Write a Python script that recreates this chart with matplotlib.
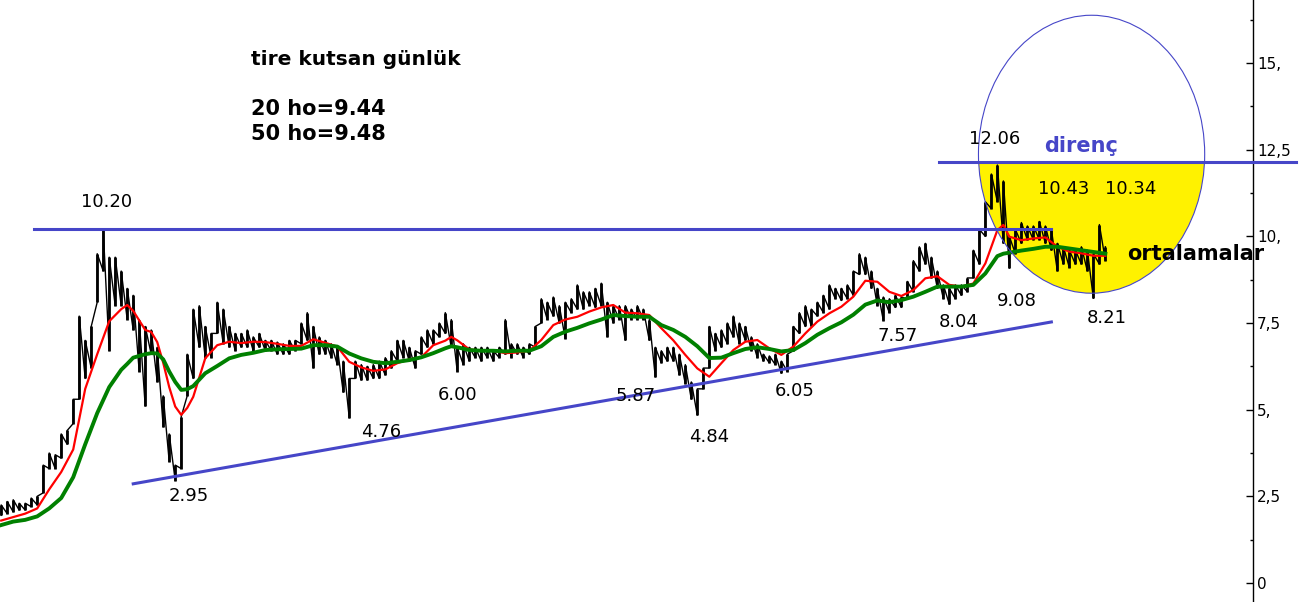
import matplotlib
matplotlib.use("Agg")
import matplotlib.pyplot as plt
import numpy as np
from matplotlib.patches import Ellipse, Rectangle

# daily bars (low / high), one bar per step of the original chart
bar_low = [
    1.95, 2.0, 2.05, 2.1, 2.1, 2.2, 2.25, 2.6, 3.3, 3.3,
    3.6, 4.0, 4.6, 5.3, 5.9, 6.2, 8.1, 9.0, 6.7, 8.0,
    8.0, 7.6, 7.3, 6.1, 5.1, 6.6, 5.8, 4.5, 3.5, 2.95,
    3.3, 5.4, 5.9, 6.8, 6.5, 6.5, 7.2, 6.9, 6.8, 6.7,
    6.8, 6.8, 6.7, 6.8, 6.7, 6.7, 6.6, 6.6, 6.6, 6.7,
    6.9, 7.0, 6.2, 6.6, 6.6, 6.5, 6.3, 5.5, 4.76, 5.9,
    5.85, 5.85, 5.9, 5.9, 6.0, 6.2, 6.4, 6.5, 6.4, 6.2,
    6.6, 6.8, 6.9, 7.1, 7.2, 6.8, 6.1, 6.3, 6.4, 6.5,
    6.4, 6.5, 6.4, 6.5, 6.6, 6.5, 6.6, 6.5, 6.6, 6.8,
    7.5, 7.6, 7.7, 7.5, 7.05, 7.8, 7.9, 7.9, 8.0, 7.95,
    8.0, 7.1, 7.5, 7.6, 7.0, 7.6, 7.6, 7.6, 7.0, 5.94,
    6.35, 6.4, 6.4, 6.0, 5.75, 5.3, 4.84, 5.6, 6.2, 6.7,
    6.8, 6.9, 7.1, 6.9, 7.0, 6.7, 6.5, 6.4, 6.35, 6.3,
    6.05, 6.1, 6.7, 7.2, 7.4, 7.4, 7.7, 7.8, 7.9, 8.2,
    8.15, 8.2, 8.3, 8.9, 8.9, 8.5, 8.0, 7.57, 7.8, 7.95,
    7.95, 8.2, 8.4, 9.0, 9.2, 8.8, 8.5, 8.2, 8.04, 8.2,
    8.3, 8.4, 8.8, 9.2, 10.0, 10.8, 11.0, 9.8, 9.08, 9.5,
    9.8, 9.9, 9.9, 9.9, 9.8, 9.6, 9.0, 9.2, 9.1, 9.2,
    9.2, 9.0, 8.21, 9.2, 9.3,
]
bar_high = [
    2.25, 2.35, 2.4, 2.3, 2.3, 2.45, 2.5, 3.4, 3.75, 3.7,
    4.3, 4.4, 5.3, 7.7, 7.0, 7.4, 9.5, 10.2, 9.4, 9.4,
    9.0, 8.5, 8.3, 7.6, 7.4, 7.3, 6.8, 5.4, 4.3, 3.4,
    4.8, 6.6, 7.9, 8.0, 7.4, 7.2, 8.1, 7.9, 7.4, 7.2,
    7.2, 7.3, 7.1, 7.2, 7.0, 7.0, 6.95, 6.9, 7.0, 7.0,
    7.5, 7.8, 7.4, 7.1, 7.0, 6.9, 6.8, 6.4, 5.9, 6.4,
    6.3, 6.25, 6.3, 6.4, 6.5, 6.7, 7.0, 7.0, 6.8, 6.7,
    7.1, 7.3, 7.3, 7.5, 7.8, 7.6, 6.8, 6.9, 6.8, 6.8,
    6.8, 6.8, 6.7, 6.8, 7.6, 6.9, 6.9, 6.8, 6.9, 7.4,
    8.2, 8.1, 8.25, 8.0, 8.1, 8.2, 8.6, 8.4, 8.4, 8.5,
    8.65, 8.1, 8.0, 8.0, 8.0, 7.9, 8.0, 7.9, 7.6, 6.8,
    6.7, 6.8, 6.8, 6.6, 6.3, 5.8, 5.6, 6.2, 7.4, 7.2,
    7.3, 7.5, 7.7, 7.5, 7.4, 7.1, 6.9, 6.6, 6.55, 6.6,
    6.4, 6.6, 7.4, 7.8, 8.0, 7.9, 8.1, 8.3, 8.6, 8.5,
    8.5, 8.6, 9.0, 9.5, 9.4, 9.0, 8.5, 8.25, 8.2, 8.3,
    8.25, 8.7, 9.3, 9.7, 9.8, 9.4, 9.0, 8.6, 8.5, 8.6,
    8.6, 8.8, 9.6, 10.2, 11.0, 11.8, 12.06, 11.6, 10.0, 10.2,
    10.4, 10.3, 10.3, 10.43, 10.3, 10.2, 9.8, 9.7, 9.6, 9.6,
    9.7, 9.6, 9.5, 10.34, 9.7,
]

# moving averages read at these bar numbers
ma_bar = [
    0, 2, 4, 6, 8, 10, 12, 14, 16, 18, 20, 21, 22, 24, 25, 26, 27, 28, 29, 30,
    31, 32, 34, 36, 38, 40, 42, 44, 46, 48, 50, 52, 54, 56, 58, 60, 62, 64, 66,
    68, 70, 72, 74, 75, 76, 78, 80, 82, 84, 86, 88, 90, 92, 94, 96, 98, 100, 102,
    104, 106, 108, 110, 112, 114, 116, 118, 120, 122, 124, 126, 128, 130, 132,
    134, 136, 138, 140, 142, 144, 146, 148, 150, 152, 154, 156, 158, 160, 162,
    164, 166, 167, 168, 170, 172, 174, 176, 178, 180, 182, 184,
]
ma20 = [
    1.8, 1.9, 2.0, 2.15, 2.7, 3.2, 3.85, 5.6, 6.6, 7.55, 7.9, 8.02, 7.85, 7.3,
    7.24, 6.95, 6.35, 5.65, 5.09, 4.85, 5.05, 5.37, 6.48, 6.86, 6.96, 6.92,
    6.96, 6.95, 6.9, 6.84, 6.84, 7.03, 6.93, 6.82, 6.38, 6.22, 6.12, 6.16,
    6.34, 6.45, 6.51, 6.86, 6.99, 7.1, 7.0, 6.74, 6.7, 6.7, 6.63, 6.65, 6.7,
    7.01, 7.44, 7.6, 7.68, 7.83, 7.95, 8.02, 7.8, 7.78, 7.73, 7.35, 7.0, 6.58,
    6.19, 5.95, 6.34, 6.72, 6.96, 7.01, 6.77, 6.58, 6.82, 7.2, 7.54, 7.78,
    7.97, 8.26, 8.72, 8.69, 8.4, 8.28, 8.45, 8.79, 8.85, 8.6, 8.55, 8.64,
    9.22, 10.18, 10.33, 9.99, 9.89, 9.94, 9.97, 9.7, 9.56, 9.51, 9.44, 9.44,
]
ma50 = [
    1.67, 1.77, 1.82, 1.92, 2.15, 2.45, 3.05, 4.0, 4.9, 5.65, 6.15, 6.32,
    6.5, 6.6, 6.63, 6.62, 6.45, 6.1, 5.8, 5.57, 5.59, 5.68, 6.05, 6.26, 6.48,
    6.58, 6.64, 6.72, 6.74, 6.75, 6.76, 6.86, 6.86, 6.82, 6.62, 6.48, 6.38,
    6.34, 6.38, 6.43, 6.51, 6.63, 6.77, 6.83, 6.8, 6.72, 6.7, 6.7, 6.68, 6.7,
    6.7, 6.83, 7.1, 7.25, 7.36, 7.49, 7.6, 7.73, 7.7, 7.68, 7.68, 7.44, 7.3,
    7.1, 6.83, 6.49, 6.5, 6.63, 6.75, 6.8, 6.75, 6.68, 6.72, 6.92, 7.16,
    7.35, 7.52, 7.74, 8.03, 8.15, 8.1, 8.16, 8.26, 8.4, 8.55, 8.55, 8.55,
    8.6, 8.93, 9.43, 9.5, 9.53, 9.59, 9.64, 9.7, 9.7, 9.65, 9.6, 9.55, 9.5,
]

# hand-drawn levels
support_x = [22, 175]
support_y = [2.86, 7.53]
top_level = 10.2
resistance = 12.15

y_ticks = [0, 2.5, 5, 7.5, 10, 12.5, 15]
y_tick_labels = ["0", "2,5", "5,", "7,5", "10,", "12,5", "15,"]

BLUE = "#4646c8"


def main() -> None:
    x = np.arange(len(bar_low))

    fig = plt.figure(figsize=(13.08, 6.02), dpi=100)
    ax = fig.add_axes([0, 0, 1253 / 1308, 1])
    ax.set_xlim(-0.2, 208.6)
    ax.set_ylim(-0.55, 16.82)

    # yellow half of the circle under the resistance line
    fill = Ellipse((181.7, 12.37), 37.7, 8.02, facecolor="#fff200",
                   edgecolor="none", zorder=1)
    ax.add_patch(fill)
    fill.set_clip_path(Rectangle((140, -1), 80, resistance + 1, transform=ax.transData))
    ax.add_patch(Ellipse((181.7, 12.37), 37.7, 8.02, fill=False,
                         edgecolor=BLUE, lw=0.8, zorder=6))

    # price bars; the saw line walks low->high of every bar so it reads as dense sticks
    ax.vlines(x, bar_low, bar_high, color="black", lw=2.0, zorder=2)
    saw_x = np.repeat(x, 2)
    saw_y = np.column_stack([bar_low, bar_high]).ravel()
    ax.plot(saw_x, saw_y, color="black", lw=1.0, zorder=2)

    ax.plot(ma_bar, ma20, color="#ff0000", lw=1.6, zorder=3)
    ax.plot(ma_bar, ma50, color="#008000", lw=2.8, zorder=4)

    ax.plot([5.5, 175], [top_level, top_level], color=BLUE, lw=2.2, zorder=5)
    ax.plot([156.2, 215.8], [resistance, resistance], color=BLUE, lw=2.2,
            zorder=5, clip_on=False)
    ax.plot(support_x, support_y, color=BLUE, lw=2.2, zorder=5)

    ax.text(41.7, 15.09, "tire kutsan günlük", fontsize=14.5, fontweight="bold", va="center")
    ax.text(41.7, 13.67, "20 ho=9.44", fontsize=15, fontweight="bold", va="center")
    ax.text(41.7, 12.95, "50 ho=9.48", fontsize=15, fontweight="bold", va="center")

    labels = [
        ("10.20", 17.5, 10.99), ("2.95", 31.2, 2.51), ("4.76", 63.3, 4.36),
        ("6.00", 76.0, 5.42), ("5.87", 105.7, 5.39), ("4.84", 118.0, 4.21),
        ("6.05", 132.3, 5.54), ("7.57", 149.3, 7.12), ("8.04", 159.5, 7.53),
        ("9.08", 169.2, 8.13), ("8.21", 184.3, 7.64), ("12.06", 165.5, 12.81),
        ("10.43", 177.0, 11.36), ("10.34", 188.3, 11.36),
    ]
    for text, lx, ly in labels:
        ax.text(lx, ly, text, fontsize=13, ha="center", va="center", zorder=7)

    ax.text(180.0, 12.6, "direnç", fontsize=15, fontweight="bold", color=BLUE,
            ha="center", va="center", zorder=7)
    ax.text(199.0, 9.49, "ortalamalar", fontsize=15, fontweight="bold",
            ha="center", va="center", zorder=7, clip_on=False)

    for side in ("top", "left", "bottom"):
        ax.spines[side].set_visible(False)
    ax.spines["right"].set_linewidth(1.0)
    ax.set_xticks([])
    ax.yaxis.tick_right()
    ax.set_yticks(y_ticks)
    ax.set_yticklabels(y_tick_labels)
    ax.set_yticks(np.arange(1.25, 16.5, 2.5), minor=True)
    ax.tick_params(axis="y", which="major", direction="in", length=5, width=1,
                   pad=3, labelsize=11)
    ax.tick_params(axis="y", which="minor", direction="in", length=2.5, width=1)

    fig.savefig("out.png", dpi=100)
    plt.close(fig)


if __name__ == "__main__":
    main()
